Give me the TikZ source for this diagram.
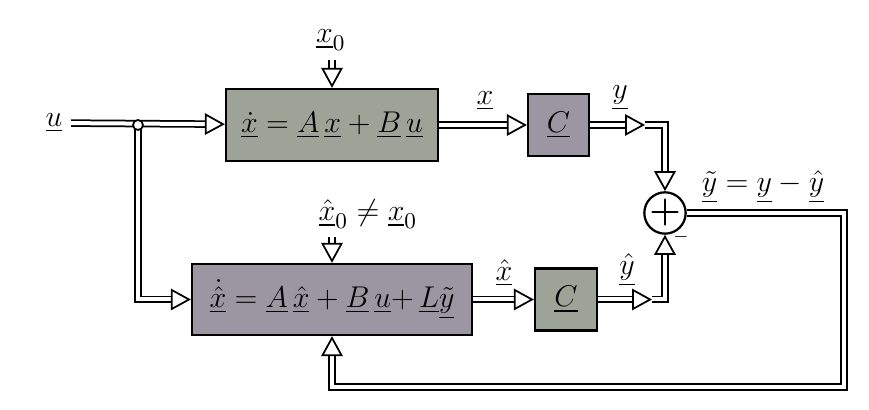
\documentclass[tikz,border=0pt]{standalone}
\usepackage{amsmath}
\usepackage{tikz}
\usetikzlibrary{arrows.meta,positioning,calc}
\definecolor{topgray}{RGB}{158,163,152}
\definecolor{botgray}{RGB}{156,150,163}
\newcommand{\uvec}[1]{\underline{#1}}
\tikzstyle{dbl} = [double,double distance=1.6pt,line width=0.7pt]
\tikzstyle{dblarrow} = [dbl,-{Triangle[open,length=8pt,width=8.6pt]}]
\tikzstyle{block} = [draw,line width=0.9pt,inner sep=0pt]

\begin{document}
\begin{tikzpicture}[x=0.4pt,y=-0.4pt,font=\fontsize{13}{15}\selectfont]
\useasboundingbox (0,0) rectangle (869,410);
   	% blocks
   	\node[block,fill=topgray,minimum width=84.8pt,minimum height=28.8pt] (plant) at (332,125) {$\underline{\dot{x}} = \uvec{A}\,\uvec{x} + \uvec{B}\,\uvec{u}$};
   	\node[block,fill=botgray,minimum width=24.4pt,minimum height=24.8pt] (C1) at (558.5,125) {$\uvec{C}$};
   	\node[block,fill=botgray,minimum width=112pt,minimum height=28.4pt] (obs) at (332,299.5) {$\underline{\dot{\hat{x}}} = \uvec{A}\,\underline{\hat{x}} + \uvec{B}\,\uvec{u}{+}\,\uvec{L}\underline{\tilde{y}}$};
   	\node[block,fill=topgray,minimum width=24.8pt,minimum height=24.8pt] (C2) at (566,299.5) {$\uvec{C}$};
   	\node[draw,circle,line width=0.9pt,minimum size=13.2pt,inner sep=0pt] (sum) at (665,213) {\Large$\boldsymbol{+}$};
   	% labels
   	\node (u) at (54,123) {$\uvec{u}$};
   	\node (x0) at (331,40) {$\underline{x}_0$};
   	\node (xh0) at (368,214) {$\underline{\hat{x}}_0 \neq \underline{x}_0$};
   	\node (xlbl) at (485,101) {$\uvec{x}$};
   	\node (ylbl) at (620,98) {$\uvec{y}$};
   	\node (xhlbl) at (504,273) {$\underline{\hat{x}}$};
   	\node (yhlbl) at (627,270) {$\underline{\hat{y}}$};
   	\node (err) at (763,187) {$\underline{\tilde{y}} = \uvec{y} - \underline{\hat{y}}$};
   	\node (minus) at (681,237) {\scriptsize$-$};
   	% helper points
   	\coordinate (split) at (138,125);
   	\coordinate (ytip) at (645,125);
   	\coordinate (yhtip) at (652,299.5);
   	\coordinate (x0top) at (332,60);
   	\coordinate (xh0top) at (332,237);
   	\coordinate (fbcorner) at (844,387);
    % signals
    \draw[dblarrow] (split) |- (obs.west);
    \draw[dblarrow] (u) -- (plant);
    \draw[line width=0.7pt,fill=white] (split) circle[radius=2pt];
    \draw[dblarrow] (x0top) -- (plant.north);
    \draw[dblarrow] (xh0top) -- (obs.north);
    \draw[dblarrow] (plant) -- (C1);
    \draw[dblarrow] (C1) -- (ytip);
    \draw[dblarrow] (ytip) -| (sum.north);
    \draw[dblarrow] (obs) -- (C2);
    \draw[dblarrow] (C2) -- (yhtip);
    \draw[dblarrow] (yhtip) -| (sum.south);
    \draw[dblarrow] (sum.east) -| (fbcorner) -| (obs.south);
\end{tikzpicture}
\end{document}
